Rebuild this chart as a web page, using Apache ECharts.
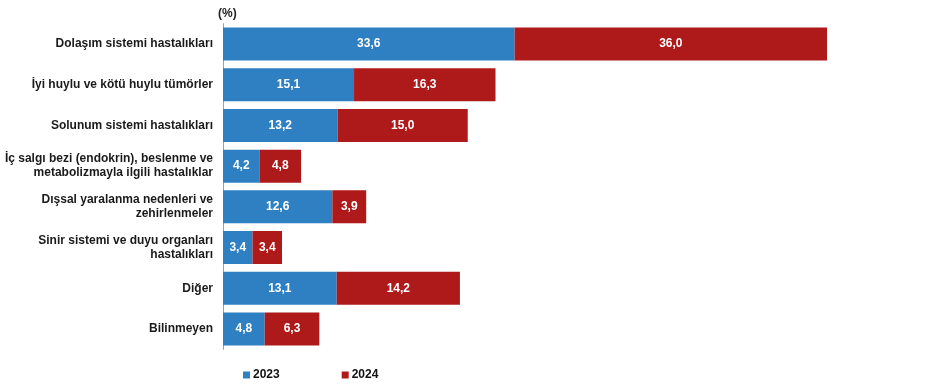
<!DOCTYPE html>
<html><head><meta charset="utf-8">
<script src="https://cdn.jsdelivr.net/npm/echarts@6/dist/echarts.min.js"></script>
<style>html,body{margin:0;padding:0;background:#fff}#c{width:947px;height:385px}</style>
</head><body><div id="c"></div>
<script>
const categories = [
  "Dolaşım sistemi hastalıkları",
  "İyi huylu ve kötü huylu tümörler",
  "Solunum sistemi hastalıkları",
  "İç salgı bezi (endokrin), beslenme ve\nmetabolizmayla ilgili hastalıklar",
  "Dışsal yaralanma nedenleri ve\nzehirlenmeler",
  "Sinir sistemi ve duyu organları\nhastalıkları",
  "Diğer",
  "Bilinmeyen"
];
const values2023 = [33.6, 15.1, 13.2, 4.2, 12.6, 3.4, 13.1, 4.8];
const values2024 = [36.0, 16.3, 15.0, 4.8, 3.9, 3.4, 14.2, 6.3];
const seriesNames = ["2023", "2024"];

const chart = echarts.init(document.getElementById('c'));
const fmt = p => p.value.toFixed(1).replace('.', ',');
const lbl = {show: true, position: 'inside', color: '#fff', fontWeight: 'bold', fontSize: 12, fontFamily: 'Liberation Sans, Arial, sans-serif', formatter: fmt};
chart.setOption({
  animation: false,
  backgroundColor: '#fff',
  title: {text: '(%)', left: 213, top: 3, textStyle: {fontSize: 12, fontWeight: 'bold', color: '#222', fontFamily: 'Liberation Sans, Arial, sans-serif'}},
  grid: {left: 223, top: 23.6, width: 607.5, height: 325.8, containLabel: false},
  legend: {top: 364, left: 238, itemGap: 62, itemWidth: 7, itemHeight: 7, icon: 'rect',
    textStyle: {fontSize: 12, fontWeight: 'bold', color: '#111', fontFamily: 'Liberation Sans, Arial, sans-serif', padding: [0,0,0,-2]},
    data: seriesNames},
  xAxis: {type: 'value', min: 0, max: 70, show: false},
  yAxis: {type: 'category', inverse: true, data: categories,
    axisLine: {show: true, lineStyle: {color: '#a0a0a0'}}, axisTick: {show: false},
    axisLabel: {margin: 10, fontSize: 12, fontWeight: 'bold', color: '#1a1a1a', fontFamily: 'Liberation Sans, Arial, sans-serif', lineHeight: 14, align: 'right'}},
  series: [
    {name: seriesNames[0], type: 'bar', stack: 't', data: values2023, barWidth: '81%', itemStyle: {color: '#2E80C3'}, label: lbl},
    {name: seriesNames[1], type: 'bar', stack: 't', data: values2024, barWidth: '81%', itemStyle: {color: '#AE1A1A'}, label: lbl}
  ]
});
</script></body></html>
